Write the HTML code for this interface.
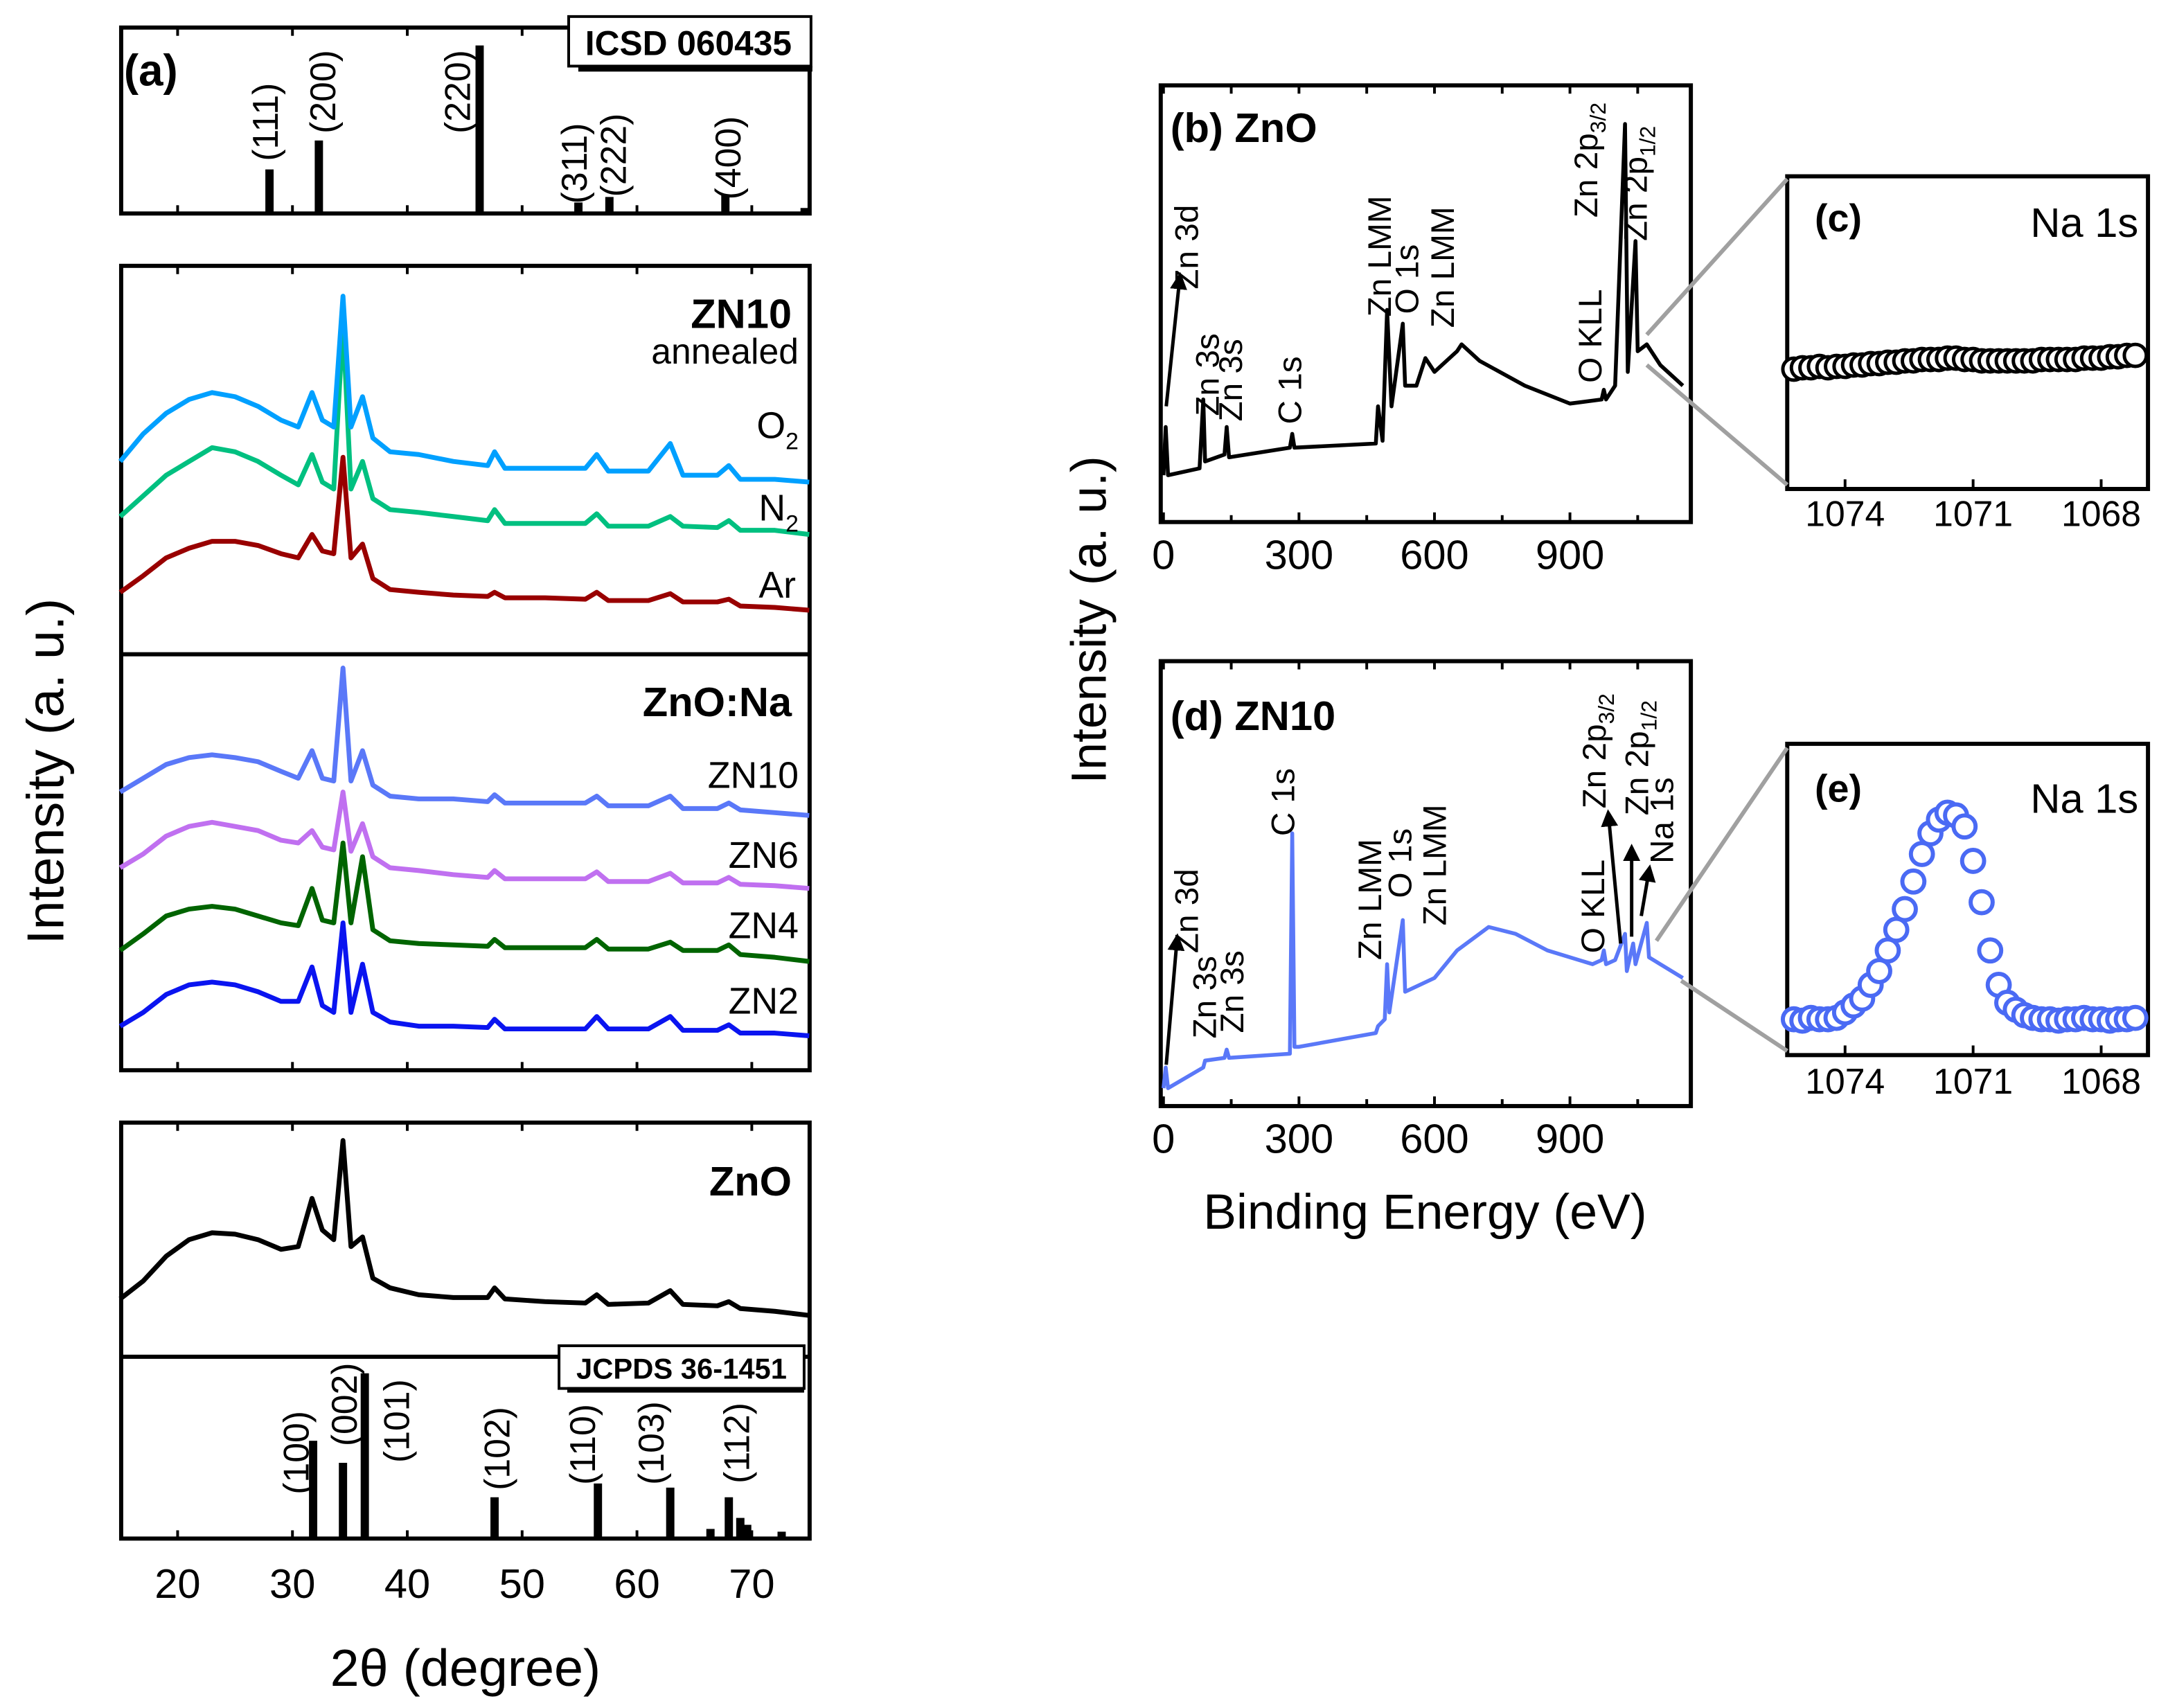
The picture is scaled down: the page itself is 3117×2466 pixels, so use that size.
<!DOCTYPE html>
<html><head><meta charset="utf-8"><style>
html,body{margin:0;padding:0;background:#fff}
svg{display:block}
text{font-family:"Liberation Sans",sans-serif;fill:#000}
</style></head><body>
<svg id="fig" xmlns="http://www.w3.org/2000/svg" width="3117" height="2466" viewBox="0 0 1568 1240" preserveAspectRatio="none">
<defs><marker id="ar" viewBox="0 0 10 10" refX="8" refY="5" markerWidth="5" markerHeight="5" orient="auto"><path d="M0,0L10,5L0,10z" fill="#000"/></marker></defs>
</svg>
<script>
// ---------- XRD data ----------
const tt = [15,17,19,21,23,25,27,29,30.5,31.7,32.6,33.6,34.4,35.1,36.1,37,38.5,41,44,47,47.6,48.5,52,55.5,56.5,57.5,61,62.9,64,67,68,69,72,75];
const pyO2  = [335,315,300,290,285,288,295,305,310,285,305,310,215,310,288,318,328,330,335,338,328,340,340,340,330,342,342,322,345,345,338,348,348,350];
const pyN2  = [375,360,345,335,325,328,335,345,352,330,350,355,235,355,335,362,370,372,375,378,370,380,380,380,373,382,382,375,382,383,378,385,385,388];
const pyAr  = [430,418,405,398,393,393,396,402,405,388,400,402,332,405,395,420,428,430,432,433,430,434,434,435,430,436,436,431,437,437,435,440,441,443];
const pyZN10= [575,565,555,550,548,550,553,560,565,545,565,567,485,567,545,570,578,580,580,582,577,583,583,583,578,585,585,578,587,587,583,588,590,592];
const pyZN6 = [630,620,607,600,597,600,603,610,612,603,615,617,575,618,598,622,630,632,635,637,632,638,638,638,633,640,640,634,641,641,637,642,643,645];
const pyZN4 = [690,678,665,660,658,660,665,670,672,645,668,670,612,670,622,675,683,685,686,687,682,688,688,688,682,689,689,684,690,690,686,693,695,698];
const pyZN2 = [745,735,722,715,713,715,720,727,727,702,730,735,670,735,700,735,742,745,745,746,740,747,747,747,738,747,747,738,748,748,744,750,750,752];
const pyZnO = [943,930,912,900,895,896,900,907,905,870,893,900,828,905,898,928,935,940,942,942,935,943,945,946,940,947,946,937,947,948,945,950,952,955];
const icsdPos = [28,32.3,46.3,54.9,57.6,67.7,74.6];
const icsdH = [32,53,122,8,12,14,4];
const icsdLab = ["(111)","(200)","(220)","(311)","(222)","(400)",""];
const jcPos = [31.8,34.4,36.3,47.6,56.6,62.9,66.4,68,69,69.6,72.6];
const jcH = [71,55,120,30,40,37,7,30,15,10,5];
const jcLab = ["(100)","(002)","(101)","(102)","(110)","(103)","","(112)","","",""];
const xTicks = [20,30,40,50,60,70];
// ---------- XPS data ----------
const eB = [0,5,10,80,88,92,135,140,145,280,285,290,470,475,485,495,505,530,535,560,580,600,650,660,700,800,900,970,975,980,1000,1022,1028,1045,1050,1070,1100,1150];
const pyB = [345,310,345,340,290,335,330,310,332,325,315,325,322,295,320,225,295,235,280,280,260,270,255,250,262,280,293,290,283,290,280,90,270,175,255,250,265,280];
const eD = [0,5,10,88,92,135,140,145,280,285,290,300,470,475,490,495,500,530,535,600,650,720,780,850,950,970,975,980,1000,1022,1026,1040,1045,1070,1075,1100,1150];
const pyD = [790,775,790,775,770,768,762,768,765,605,760,760,750,745,740,700,735,668,720,710,690,673,678,690,700,697,690,700,697,678,705,685,700,670,695,700,710];
const xpsTicks = [0,300,600,900];
const naE = [1075.2,1075,1074.8,1074.6,1074.4,1074.2,1074,1073.8,1073.6,1073.4,1073.2,1073,1072.8,1072.6,1072.4,1072.2,1072,1071.8,1071.6,1071.4,1071.2,1071,1070.8,1070.6,1070.4,1070.2,1070,1069.8,1069.6,1069.4,1069.2,1069,1068.8,1068.6,1068.4,1068.2,1068,1067.8,1067.6,1067.4,1067.2];
const pyC = [268,267,267,266,267,266,266,265,265,264,264,263,263,262,262,261,261,261,260,260,261,261,262,262,262,262,262,262,262,261,261,261,261,261,260,260,260,259,259,258,258];
const pyE = [740,741,739,740,740,739,735,730,725,715,705,690,675,660,640,620,605,595,590,592,600,625,655,690,715,728,733,737,739,740,740,741,740,740,739,740,740,741,740,740,739];
const naTicks = [1074,1071,1068];

const svg = document.getElementById('fig');
const NS = 'http://www.w3.org/2000/svg';
function mk(tag, attrs, parent){const e=document.createElementNS(NS,tag);for(const k in attrs)e.setAttribute(k,attrs[k]);(parent||svg).appendChild(e);return e;}
function txt(s,x,y,size,opts){opts=opts||{};const t=mk('text',{x:x,y:y,'font-size':size,'text-anchor':opts.anchor||'start','font-weight':opts.bold?'bold':'normal'});if(opts.rot)t.setAttribute('transform','rotate(-90 '+x+' '+y+')');t.innerHTML=s;return t;}

const xX = v => 129 + (v-20)*8.34;
const xB = e => 845 + e*0.328;
const xNa = e => 1340 + (1074-e)*31;

function box(x1,y1,x2,y2,name){const r=mk('rect',{x:x1,y:y1,width:x2-x1,height:y2-y1,fill:'none',stroke:'#000','stroke-width':3});}
box(88,20,588,155,'panel-a-reference-frame');
box(88,193,588,777,'panel-a-doped-frame');
mk('line',{x1:88,y1:475,x2:588,y2:475,stroke:'#000','stroke-width':3});
box(88,815,588,1117,'panel-a-zno-frame');
mk('line',{x1:88,y1:985,x2:588,y2:985,stroke:'#000','stroke-width':3});
box(843,62,1228,379,'panel-b-frame');
box(843,480,1228,803,'panel-d-frame');
box(1298,128,1560,355,'panel-c-frame');
box(1298,540,1560,766,'panel-e-frame');

xTicks.forEach(v=>{[[20,155],[193,777],[815,1117]].forEach(([a,b])=>{mk('line',{x1:xX(v),y1:b,x2:xX(v),y2:b-6,stroke:'#000','stroke-width':2});mk('line',{x1:xX(v),y1:a,x2:xX(v),y2:a+6,stroke:'#000','stroke-width':2});});
 const t=txt(String(v),xX(v),1160,30,{anchor:'middle'});});
let t;
t=txt('2θ (degree)',338,1224,38,{anchor:'middle'});
t=txt('Intensity (a. u.)',46,560,38,{anchor:'middle',rot:true});

function curve(xs,ys,fx,color,name,w){const d=xs.map((v,i)=>(i?'L':'M')+fx(v).toFixed(1)+','+ys[i]).join('');const p=mk('path',{d:d,fill:'none',stroke:color,'stroke-width':w||3.5,'stroke-linejoin':'round'});}
curve(tt,pyAr,xX,'#990000','curve-ar');
curve(tt,pyN2,xX,'#00c080','curve-n2');
curve(tt,pyO2,xX,'#00a0ff','curve-o2');
curve(tt,pyZN2,xX,'#0a14f0','curve-zn2');
curve(tt,pyZN4,xX,'#006400','curve-zn4');
curve(tt,pyZN6,xX,'#c070f0','curve-zn6');
curve(tt,pyZN10,xX,'#5a78f8','curve-zn10');
curve(tt,pyZnO,xX,'#000','curve-zno');

t=txt('(a)',90,62,32,{bold:true});
mk('rect',{x:413,y:12,width:176,height:36,fill:'#fff',stroke:'#000','stroke-width':2});
mk('line',{x1:420,y1:50,x2:590,y2:50,stroke:'#000','stroke-width':4});
t=txt('ICSD 060435',500,40,25,{anchor:'middle',bold:true});
mk('rect',{x:406,y:977,width:178,height:31,fill:'#fff',stroke:'#000','stroke-width':2});
mk('line',{x1:412,y1:1009,x2:584,y2:1009,stroke:'#000','stroke-width':4});
t=txt('JCPDS 36-1451',495,1001,21,{anchor:'middle',bold:true});
[['ZN10',575,238,30,true],['annealed',580,264,26,false],['ZnO:Na',575,520,30,true],['ZnO',575,868,30,true]].forEach(a=>{const e=txt(a[0],a[1],a[2],a[3],{anchor:'end',bold:a[4]});});
[['O<tspan font-size="17" dy="8">2</tspan>',580,318],['N<tspan font-size="17" dy="8">2</tspan>',580,378],['Ar',578,434],['ZN10',580,572],['ZN6',580,630],['ZN4',580,681],['ZN2',580,736]].forEach(a=>{const e=txt(a[0],a[1],a[2],27,{anchor:'end'});});

// label anchor: [center x offset from stick, bottom y]
const icsdLabPos = [[-3,117],[3,97],[-16,97],[-3,148],[3,143],[2,145]];
icsdPos.forEach((v,i)=>{const r=mk('rect',{x:xX(v)-3,y:155-icsdH[i],width:6,height:icsdH[i],fill:'#000'});
 if(icsdLab[i]){const p=icsdLabPos[i];const e=txt(icsdLab[i],xX(v)+p[0]+9,p[1],26,{rot:true});}});
const jcLabPos = {0:[215,1085],1:[250,1050],2:[288,1062],3:[361,1082],4:[423,1078],5:[473,1078],7:[535,1077]};
jcPos.forEach((v,i)=>{const r=mk('rect',{x:xX(v)-3,y:1117-jcH[i],width:6,height:jcH[i],fill:'#000'});
 if(jcLab[i]){const p=jcLabPos[i];const e=txt(jcLab[i],p[0]+9,p[1],26,{rot:true});}});

xpsTicks.forEach(v=>{[379,803].forEach(b=>{mk('line',{x1:xB(v),y1:b,x2:xB(v),y2:b-7,stroke:'#000','stroke-width':2});});
 [402,826].forEach(y=>{const e=txt(String(v),xB(v),y+11,30,{anchor:'middle'});});});
[150,450,750,1050].forEach(v=>{mk('line',{x1:xB(v),y1:379,x2:xB(v),y2:374,stroke:'#000','stroke-width':2});mk('line',{x1:xB(v),y1:803,x2:xB(v),y2:798,stroke:'#000','stroke-width':2});});
[0,150,300,450,600,750,900,1050].forEach(v=>{mk('line',{x1:xB(v),y1:62,x2:xB(v),y2:68,stroke:'#000','stroke-width':2});mk('line',{x1:xB(v),y1:480,x2:xB(v),y2:486,stroke:'#000','stroke-width':2});});
t=txt('Binding Energy (eV)',1035,892,36,{anchor:'middle'});
t=txt('Intensity (a. u.)',803,450,36,{anchor:'middle',rot:true});
curve(eB,pyB,xB,'#000','xps-zno-curve',2.8);
curve(eD,pyD,xB,'#5a78f8','xps-zn10-curve',2.8);
t=txt('(b) ZnO',850,103,30,{bold:true});
t=txt('(d) ZN10',850,530,30,{bold:true});
t=txt('(c)',1318,168,28,{bold:true});
t=txt('(e)',1318,582,28,{bold:true});
t=txt('Na 1s',1553,172,30,{anchor:'end'});
t=txt('Na 1s',1553,590,30,{anchor:'end'});
const sub=(a,b)=>a+'<tspan font-size="16" dy="6">'+b+'</tspan>';
[['Zn 3d',870,210],['Zn 3s',885,302],['Zn 3s',902,306],['C 1s',945,308],['Zn LMM',1010,230],['O 1s',1030,228],['Zn LMM',1056,238],['O KLL',1163,278],[sub('Zn 2p','3/2'),1160,158],[sub('Zn 2p','1/2'),1196,175]].forEach(a=>{const e=txt(a[0],a[1],a[2],24,{rot:true});});
[['Zn 3d',870,692],['Zn 3s',883,754],['Zn 3s',903,750],['C 1s',940,607],['Zn LMM',1003,697],['O 1s',1025,652],['Zn LMM',1050,672],['O KLL',1165,692],[sub('Zn 2p','3/2'),1166,587],[sub('Zn 2p','1/2'),1197,592],['Na 1s',1215,627]].forEach(a=>{const e=txt(a[0],a[1],a[2],24,{rot:true});});
[[847,295,857,200],[847,773,855,680],[1177,685,1168,590],[1185,680,1185,615],[1192,665,1198,630]].forEach(a=>{const l=mk('line',{x1:a[0],y1:a[1],x2:a[2],y2:a[3],stroke:'#000','stroke-width':2.5,'marker-end':'url(#ar)'});});
[[1196,243,1298,130],[1196,265,1298,352],[1203,683,1298,543],[1221,712,1298,763]].forEach(a=>{const l=mk('line',{x1:a[0],y1:a[1],x2:a[2],y2:a[3],stroke:'#a0a0a0','stroke-width':3});});
naTicks.forEach(v=>{[[355,372],[766,784]].forEach(([b,y])=>{mk('line',{x1:xNa(v),y1:b,x2:xNa(v),y2:b-7,stroke:'#000','stroke-width':2});const e=txt(String(v),xNa(v),y+10,26,{anchor:'middle'});});});
naE.forEach((v,i)=>{const c=mk('circle',{cx:xNa(v),cy:pyC[i],r:8,fill:'#fff',stroke:'#000','stroke-width':2.5});
 const d=mk('circle',{cx:xNa(v),cy:pyE[i],r:8,fill:'#fff',stroke:'#4a6af4','stroke-width':3});});
</script>
</body></html>
